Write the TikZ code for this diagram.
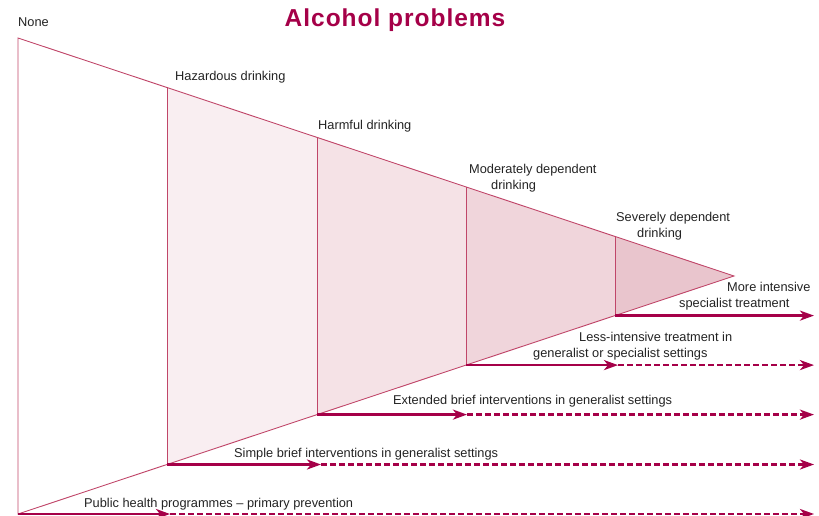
\documentclass[tikz,border=0pt]{standalone}
\usepackage{fontspec}
\setmainfont{Liberation Sans}
\usetikzlibrary{arrows.meta}

\definecolor{wine}{RGB}{165,0,72}
\definecolor{edgepink}{RGB}{192,70,105}
\definecolor{shadeA}{RGB}{249,238,241}
\definecolor{shadeB}{RGB}{245,226,230}
\definecolor{shadeC}{RGB}{240,213,219}
\definecolor{shadeD}{RGB}{233,197,205}
\definecolor{inkgray}{RGB}{35,35,35}

\begin{document}
\begin{tikzpicture}[x=1pt,y=-1pt]
\useasboundingbox (0,0) rectangle (819,516);

% corners of the triangle
\coordinate (top) at (18,38);
\coordinate (bottom) at (18,514);
\coordinate (tip) at (734,276);

% stage borders
\coordinate (haz-top) at (167,87.5);
\coordinate (haz-bot) at (167,464.5);
\coordinate (harm-top) at (317,137.4);
\coordinate (harm-bot) at (317,414.6);
\coordinate (mod-top) at (466,186.9);
\coordinate (mod-bot) at (466,365.1);
\coordinate (sev-top) at (615,236.4);
\coordinate (sev-bot) at (615,315.6);

\fill[shadeA] (haz-top) -- (harm-top) -- (harm-bot) -- (haz-bot) -- cycle;
\fill[shadeB] (harm-top) -- (mod-top) -- (mod-bot) -- (harm-bot) -- cycle;
\fill[shadeC] (mod-top) -- (sev-top) -- (sev-bot) -- (mod-bot) -- cycle;
\fill[shadeD] (sev-top) -- (tip) -- (sev-bot) -- cycle;

\begin{scope}[draw=edgepink, line width=0.9pt]
    \draw (top) -- (tip) -- (bottom) -- cycle;
    \draw (haz-top) -- (haz-bot);
    \draw (harm-top) -- (harm-bot);
    \draw (mod-top) -- (mod-bot);
    \draw (sev-top) -- (sev-bot);
\end{scope}

% arrow points
\coordinate (ph-mid) at (170,514);
\coordinate (ph-end) at (814,514);
\coordinate (sb-mid) at (321,464.5);
\coordinate (sb-end) at (814,464.5);
\coordinate (eb-mid) at (467,414.6);
\coordinate (eb-end) at (814,414.6);
\coordinate (lt-mid) at (618,365.1);
\coordinate (lt-end) at (814,365.1);
\coordinate (mi-end) at (814,315.6);

\begin{scope}[>={Stealth[length=14pt,width=10pt,inset=4pt]},
              every edge/.style={draw=wine,line width=2.4pt}]
    \path [->] (bottom) edge (ph-mid);
    \path [->, dash pattern=on 6pt off 3pt] (ph-mid) edge (ph-end);

    \path [->] (haz-bot) edge (sb-mid);
    \path [->, dash pattern=on 6pt off 3pt] (sb-mid) edge (sb-end);

    \path [->] (harm-bot) edge (eb-mid);
    \path [->, dash pattern=on 6pt off 3pt] (eb-mid) edge (eb-end);

    \path [->] (mod-bot) edge (lt-mid);
    \path [->, dash pattern=on 6pt off 3pt] (lt-mid) edge (lt-end);

    \path [->] (sev-bot) edge (mi-end);
\end{scope}

\node (title) at (395,27) [anchor=base, inner sep=0, text=wine,
    font=\bfseries\fontsize{24.5}{30}\selectfont\addfontfeature{LetterSpace=4}] {Alcohol problems};

\begin{scope}[every node/.style={anchor=base west, inner sep=0, align=left,
              text=inkgray, font=\fontsize{12.8}{15.5}\selectfont}]
    \node (none) at (18,27) {None};
    \node (hazardous) at (175,81) {Hazardous drinking};
    \node (harmful) at (318,130) {Harmful drinking};
    \node (moderate) at (469,189) {Moderately dependent\\\hspace*{22pt}drinking};
    \node (severe) at (616,237) {Severely dependent\\\hspace*{21pt}drinking};

    \node (intensive) at (679,307) {\hspace*{48pt}More intensive\\specialist treatment};
    \node (lessint) at (533,357) {\hspace*{46pt}Less-intensive treatment in\\generalist or specialist settings};
    \node (extended) at (393,404) {Extended brief interventions in generalist settings};
    \node (simple) at (234,457) {Simple brief interventions in generalist settings};
    \node (public) at (84,507) {Public health programmes -- primary prevention};
\end{scope}
\end{tikzpicture}
\end{document}
